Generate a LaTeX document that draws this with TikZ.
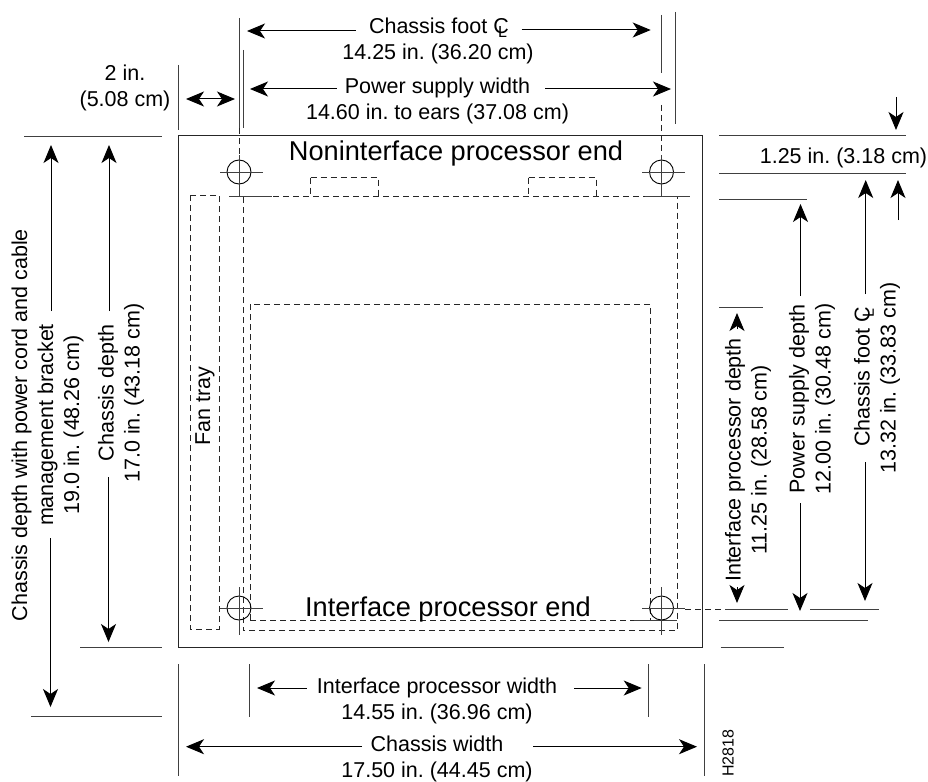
\documentclass[tikz,border=0pt]{standalone}
\usepackage{fontspec}
\setmainfont{Liberation Sans}
\usetikzlibrary{arrows.meta}
\frenchspacing
\newcommand{\clmark}{C\kern-0.5em\raisebox{-0.2em}{\fontsize{16}{16}\selectfont L}}
\tikzstyle{lbl}=[inner sep=0pt,align=center,font=\fontsize{21.5}{26}\selectfont]
\tikzstyle{endlbl}=[inner sep=0pt,font=\fontsize{27.2}{30}\selectfont]
\tikzstyle{dim}=[line width=1pt,-{Stealth[length=18pt,width=15pt,inset=5pt]}]
\tikzstyle{dbl}=[line width=1pt,{Stealth[length=18pt,width=15pt,inset=5pt]}-{Stealth[length=18pt,width=15pt,inset=5pt]}]
\tikzstyle{ext}=[line width=1pt,black!75]
\tikzstyle{part}=[line width=0.9pt,dash pattern=on 6pt off 4pt,black!85]
\begin{document}
\begin{tikzpicture}[x=1pt,y=-1pt]
        \useasboundingbox (0,0) rectangle (928,781);
        % chassis and parts inside it
        \draw[line width=1pt,black!85] (178.5,135) rectangle (702,647);
        \draw[part] (190,195) rectangle (219,629);
        \draw[part] (310.5,177.5) -- (310.5,196.5) (310.5,177.5) -- (378.5,177.5) -- (378.5,196.5);
        \draw[part] (528.5,177.5) -- (528.5,196.5) (528.5,177.5) -- (596.5,177.5) -- (596.5,196.5);
        \draw[part] (243,196.5) -- (677,196.5) -- (677,630.7) -- (243,630.7) -- cycle;
        \draw[part] (250,620) -- (250,304) -- (650,304) -- (650,620);
        \draw[part] (250,620) -- (677,620);
        \draw[part] (239,128) -- (239,156);
        \draw[part] (661.5,105) -- (661.5,156);
        \draw[part] (685,609) -- (725,609);
        % feet
        \draw[ext] (229,196.5) -- (272,196.5);
        \draw[ext] (645,196.5) -- (690,196.5);
        \draw[ext] (634,620) -- (677,620);
        \draw[line width=0.9pt] (239,172) circle (12);
        \draw[ext] (220,172) -- (263,172) (239,155) -- (239,196.5);
        \draw[line width=0.9pt] (661.5,172) circle (12);
        \draw[ext] (642,172) -- (685,172) (661.5,155) -- (661.5,196.5);
        \draw[line width=0.9pt] (239,608) circle (12);
        \draw[ext] (220,608) -- (263,608) (239,587) -- (239,635);
        \draw[line width=0.9pt] (661.5,608) circle (12);
        \draw[ext] (642,608) -- (685,608) (661.5,587) -- (661.5,635);
        % extension lines
        \draw[ext] (239,18) -- (239,128);
        \draw[ext] (243,50) -- (243,128);
        \draw[ext] (178,65) -- (178,130);
        \draw[ext] (661,15) -- (661,73);
        \draw[ext] (675.5,12) -- (675.5,124);
        \draw[ext] (24,136) -- (162,136);
        \draw[ext] (80,647) -- (162,647);
        \draw[ext] (31,716) -- (162,716);
        \draw[ext] (719,135) -- (906,135);
        \draw[ext] (719,173.5) -- (906,173.5);
        \draw[ext] (719,199) -- (807,199);
        \draw[ext] (719,307) -- (762.5,307);
        \draw[ext] (725,609) -- (788,609);
        \draw[ext] (810,609) -- (879,609);
        \draw[ext] (719,620) -- (868,620);
        \draw[ext] (720.5,647) -- (784,647);
        \draw[ext] (178,664) -- (178,776);
        \draw[ext] (249.7,664) -- (249.7,717);
        \draw[ext] (648.7,664) -- (648.7,717);
        \draw[ext] (704.3,664) -- (704.3,776);
        % labels
        \node[style=endlbl] (nonif) at (456,153.5) {Noninterface processor end};
        \node[style=endlbl] (ifend) at (448,609.5) {Interface processor end};
        \node[style=lbl,rotate=90] (fan) at (205,406) {Fan tray};
        \node[style=lbl] (footw) at (438,41) {Chassis foot \clmark\\14.25 in. (36.20 cm)};
        \node[style=lbl] (psw) at (437.5,100.5) {Power supply width\\14.60 in. to ears (37.08 cm)};
        \node[style=lbl] (twoin) at (125,88) {2 in.\\(5.08 cm)};
        \node[style=lbl] (top) at (843.5,157.5) {1.25 in. (3.18 cm)};
        \node[style=lbl] (ipw) at (437,701) {Interface processor width\\14.55 in. (36.96 cm)};
        \node[style=lbl] (chw) at (437,759) {Chassis width\\17.50 in. (44.45 cm)};
        \node[style=lbl,rotate=90] (brk) at (47.5,425) {Chassis depth with power cord and cable\\management bracket\\19.0 in. (48.26 cm)};
        \node[style=lbl,rotate=90] (chd) at (121,393) {Chassis depth\\17.0 in. (43.18 cm)};
        \node[style=lbl,rotate=90] (ipd) at (748,460) {Interface processor depth\\11.25 in. (28.58 cm)};
        \node[style=lbl,rotate=90] (psd) at (812,399) {Power supply depth\\12.00 in. (30.48 cm)};
        \node[style=lbl,rotate=90] (footd) at (877,378) {Chassis foot \clmark\\13.32 in. (33.83 cm)};
        \node[inner sep=0pt,rotate=90,font=\fontsize{16}{16}\selectfont] (h) at (728,753) {H2818};
        % dimension arrows
        \coordinate (fw1) at (355.7,31); \coordinate (fw2) at (247,31);
        \coordinate (fw3) at (521.7,30); \coordinate (fw4) at (650.7,30);
        \draw[dim] (fw1) to (fw2);
        \draw[dim] (fw3) to (fw4);
        \coordinate (pw1) at (336.7,89); \coordinate (pw2) at (250,89);
        \coordinate (pw3) at (545,89); \coordinate (pw4) at (671,89);
        \draw[dim] (pw1) to (pw2);
        \draw[dim] (pw3) to (pw4);
        \coordinate (ti1) at (186,99); \coordinate (ti2) at (235,99);
        \draw[dbl] (ti1) to (ti2);
        \coordinate (tp1) at (896,97); \coordinate (tp2) at (896,130);
        \coordinate (tp3) at (898,220); \coordinate (tp4) at (898,180);
        \draw[dim] (tp1) to (tp2);
        \draw[dim] (tp3) to (tp4);
        \coordinate (fd1) at (865.7,294); \coordinate (fd2) at (865.7,180);
        \coordinate (fd3) at (865,462); \coordinate (fd4) at (865,601);
        \draw[dim] (fd1) to (fd2);
        \draw[dim] (fd3) to (fd4);
        \coordinate (pd1) at (800.5,296); \coordinate (pd2) at (800.5,204);
        \coordinate (pd3) at (800,503); \coordinate (pd4) at (800,611);
        \draw[dim] (pd1) to (pd2);
        \draw[dim] (pd3) to (pd4);
        \coordinate (id1) at (737,329); \coordinate (id2) at (737,313);
        \coordinate (id3) at (737,587); \coordinate (id4) at (737,603);
        \draw[dim] (id1) to (id2);
        \draw[dim] (id3) to (id4);
        \coordinate (cd1) at (109,311); \coordinate (cd2) at (109,145);
        \coordinate (cd3) at (108.5,477); \coordinate (cd4) at (108.5,642);
        \draw[dim] (cd1) to (cd2);
        \draw[dim] (cd3) to (cd4);
        \coordinate (bk1) at (51,311); \coordinate (bk2) at (51,145);
        \coordinate (bk3) at (50.5,538); \coordinate (bk4) at (50.5,707);
        \draw[dim] (bk1) to (bk2);
        \draw[dim] (bk3) to (bk4);
        \coordinate (iw1) at (306.7,688); \coordinate (iw2) at (257,688);
        \coordinate (iw3) at (574,688); \coordinate (iw4) at (641.7,688);
        \draw[dim] (iw1) to (iw2);
        \draw[dim] (iw3) to (iw4);
        \coordinate (cw1) at (362,746.7); \coordinate (cw2) at (186,746.7);
        \coordinate (cw3) at (533,746.7); \coordinate (cw4) at (697,746.7);
        \draw[dim] (cw1) to (cw2);
        \draw[dim] (cw3) to (cw4);
    \end{tikzpicture}
\end{document}
